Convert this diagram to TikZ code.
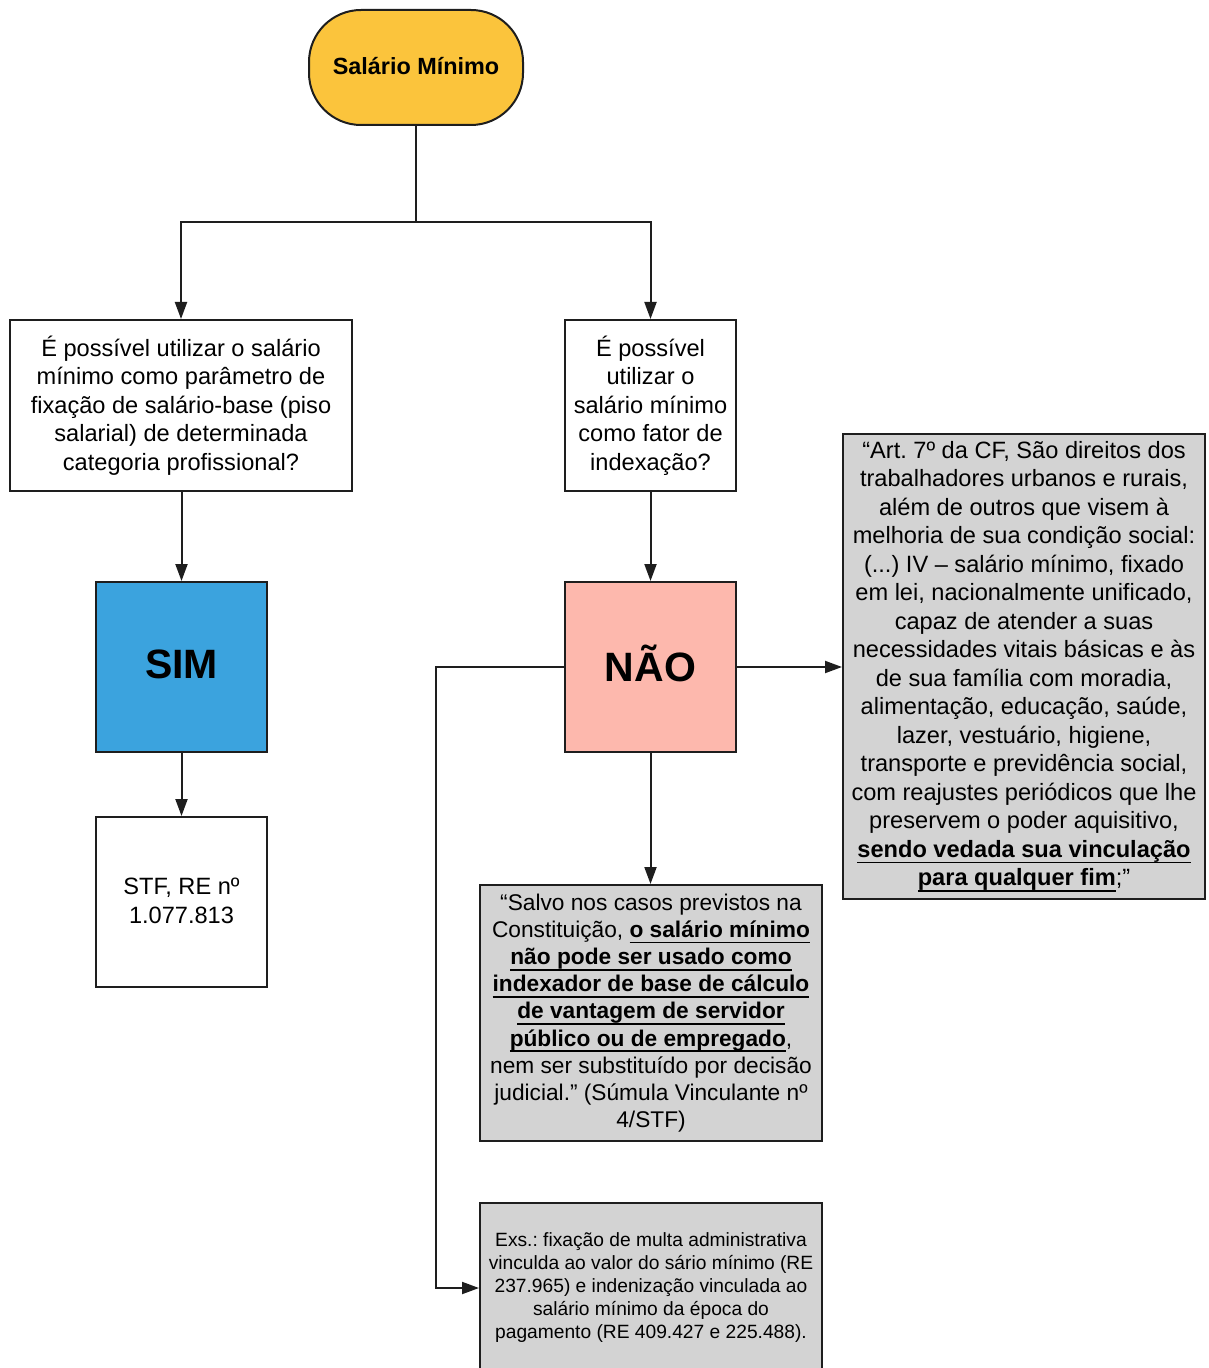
\documentclass[tikz,border=0pt]{standalone}
\usepackage{fontspec}
\setmainfont{Liberation Sans}
\usetikzlibrary{arrows.meta}
\definecolor{startfill}{HTML}{FBC43C}
\definecolor{simfill}{HTML}{3BA3DE}
\definecolor{naofill}{HTML}{FDB8AD}
\definecolor{grayfill}{HTML}{D3D3D3}
\definecolor{edge}{HTML}{1E1E1E}
\newsavebox{\ubbox}
\newcommand{\ub}[1]{\sbox{\ubbox}{\textbf{#1}}\rlap{\rule[-3.1pt]{\wd\ubbox}{0.9pt}}\usebox{\ubbox}}
\frenchspacing
\begin{document}
\begin{tikzpicture}[x=0.5pt,y=-0.5pt,
  box/.style={draw=edge, line width=1pt, align=center, inner sep=0pt,
    font=\fontsize{11.8}{14.25}\selectfont},
  arr/.style={-{Triangle[length=8.5pt,width=6pt]}, line width=1pt, draw=edge},
  ln/.style={line width=1pt, draw=edge}]
\useasboundingbox[fill=white] (0,0) rectangle (1208,1368);

\node[box, fill=startfill, rounded corners=26pt, minimum width=107pt, minimum height=57.5pt,
  font=\fontsize{11.7}{14}\selectfont\bfseries] (start) at (416,67.5) {\raisebox{1.5pt}{Salário Mínimo}};

\node[box, minimum width=171pt, minimum height=85.5pt] (q1) at (181,405.5)
  {É possível utilizar o salário\\mínimo como parâmetro de\\fixação de salário-base (piso\\salarial) de determinada\\categoria profissional?};

\node[box, minimum width=85.5pt, minimum height=85.5pt] (q2) at (650.5,405.5)
  {É possível\\utilizar o\\salário mínimo\\como fator de\\indexação?};

\node[box, fill=simfill, minimum width=85.5pt, minimum height=85pt,
  font=\fontsize{20.5}{24}\selectfont\bfseries] (sim) at (181.5,667) {\raisebox{3pt}{SIM}};

\node[box, fill=naofill, minimum width=85.5pt, minimum height=85pt,
  font=\fontsize{20.5}{24}\selectfont\bfseries] (nao) at (650.5,667) {\raisebox{4pt}{NÃO}};

\node[box, minimum width=85.5pt, minimum height=85pt] (stf) at (181.5,902)
  {\raisebox{1.5pt}{STF, RE nº}\\\raisebox{1.5pt}{1.077.813}};

\node[box, fill=grayfill, minimum width=181pt, minimum height=232.5pt] (art) at (1024,666.5)
  {“Art. 7º da CF, São direitos dos\\trabalhadores urbanos e rurais,\\além de outros que visem à\\melhoria de sua condição social:\\(...) IV – salário mínimo, fixado\\em lei, nacionalmente unificado,\\capaz de atender a suas\\necessidades vitais básicas e às\\de sua família com moradia,\\alimentação, educação, saúde,\\lazer, vestuário, higiene,\\transporte e previdência social,\\com reajustes periódicos que lhe\\preservem o poder aquisitivo,\\\ub{sendo vedada sua vinculação}\\\ub{para qualquer fim};"};

\node[box, fill=grayfill, minimum width=171pt, minimum height=128pt,
  font=\fontsize{11.35}{13.6}\selectfont] (sum) at (651,1013)
  {“Salvo nos casos previstos na\\Constituição, \ub{o salário mínimo}\\\ub{não pode ser usado como}\\\ub{indexador de base de cálculo}\\\ub{de vantagem de servidor}\\\ub{público ou de empregado},\\nem ser substituído por decisão\\judicial." (Súmula Vinculante nº\\4/STF)};

\node[box, fill=grayfill, minimum width=171pt, minimum height=85pt,
  font=\fontsize{9.6}{11.5}\selectfont] (exs) at (651,1288)
  {Exs.: fixação de multa administrativa\\vinculda ao valor do sário mínimo (RE\\237.965) e indenização vinculada ao\\salário mínimo da época do\\pagamento (RE 409.427 e 225.488).};

\coordinate (j) at (416,222);
\coordinate (c) at (436,667);

\draw[ln] (start.south) -- (j);
\draw[arr] (j) -| (q1.north);
\draw[arr] (j) -| (q2.north);
\draw[arr] (sim.north |- q1.south) -- (sim.north);
\draw[arr] (sim.south) -- (stf.north);
\draw[arr] (q2.south) -- (nao.north);
\draw[arr] (nao.south) -- (nao.south |- sum.north);
\draw[arr] (nao.east) -- (nao.east -| art.west);
\draw[arr] (nao.west) -- (c) |- (exs.west);
\end{tikzpicture}
\end{document}
